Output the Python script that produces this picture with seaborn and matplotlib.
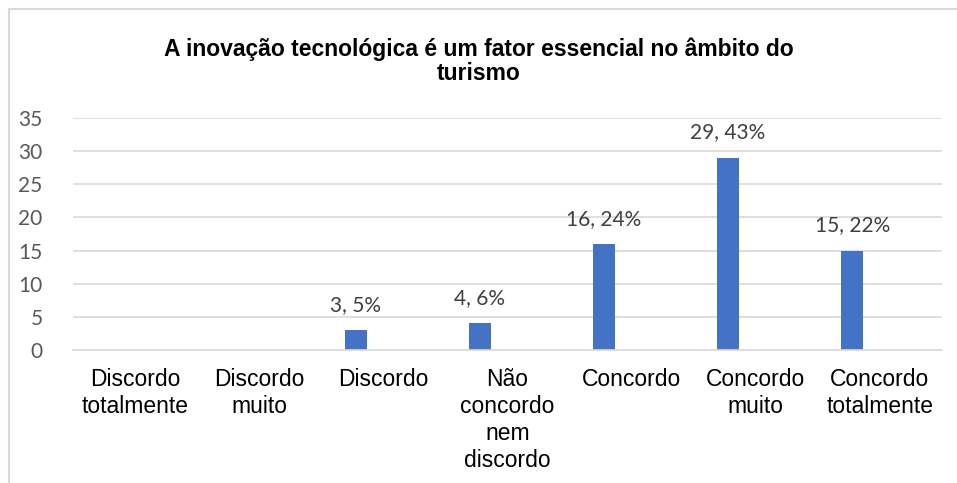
import matplotlib.pyplot as plt
import matplotlib.patches as mpatches
import seaborn as sns
import pandas as pd

# respostas (escala de concordância)
categorias = ["Discordo\ntotalmente", "Discordo\nmuito", "Discordo",
              "Não\nconcordo\nnem\ndiscordo", "Concordo", "Concordo\nmuito",
              "Concordo\ntotalmente"]
frequencia = [0, 0, 3, 4, 16, 29, 15]
percentagem = [0, 0, 5, 6, 24, 43, 22]

# Excel reserved slots for empty series, so the bars sit left of the tick
series = ["Frequência", "s2", "s3"]

df = pd.DataFrame({
    "cat": categorias * 3,
    "valor": frequencia + [0] * 7 + [0] * 7,
    "serie": [series[0]] * 7 + [series[1]] * 7 + [series[2]] * 7,
})

sns.set_style("white")

fig = plt.figure(figsize=(9.57, 4.83), dpi=100)
ax = fig.add_axes([0.0763, 0.2754, 0.9077, 0.4803])

sns.barplot(data=df, x="cat", y="valor", hue="serie", hue_order=series,
            order=categorias, palette=["#4472C4", "#ED7D31", "#A5A5A5"],
            saturation=1, width=0.665, gap=0.2, linewidth=0, errorbar=None,
            legend=False, ax=ax)

labels = [f"{v}, {p}%" if v > 0 else "" for v, p in zip(frequencia, percentagem)]
ax.bar_label(ax.containers[0], labels=labels, padding=11, fontsize=15,
             family="Lato", color="#404040")

ax.set_ylim(0, 35)
ax.set_yticks(range(0, 36, 5))
ax.set_xlim(-0.5, 6.5)
ax.yaxis.grid(True, color="#D9D9D9", linewidth=1.2)
ax.set_axisbelow(True)
for s in ["top", "right", "left"]:
    ax.spines[s].set_visible(False)
ax.spines["bottom"].set_color("#D9D9D9")
ax.spines["bottom"].set_linewidth(1.2)
ax.set_xlabel("")
ax.set_ylabel("")
ax.tick_params(axis="both", length=0)
ax.tick_params(axis="x", pad=13, labelsize=16.5, labelcolor="#000000")
ax.tick_params(axis="y", pad=22, labelsize=15, labelcolor="#595959")
for t in ax.get_xticklabels():
    t.set_family("Liberation Sans")
    t.set_linespacing(1.22)
for t in ax.get_yticklabels():
    t.set_family("Lato")

fig.text(0.5, 0.873, "A inovação tecnológica é um fator essencial no âmbito do\nturismo",
         ha="center", va="center", fontsize=16.5, fontweight="bold",
         family="Liberation Sans", linespacing=1.1, color="#000000")

# moldura do gráfico
fig.patches.append(mpatches.Rectangle((9 / 957, -0.1), 1.2, 1.1 - 9 / 483,
                                      transform=fig.transFigure, fill=False,
                                      edgecolor="#D9D9D9", linewidth=1.5))

fig.savefig("out.png", dpi=100)
